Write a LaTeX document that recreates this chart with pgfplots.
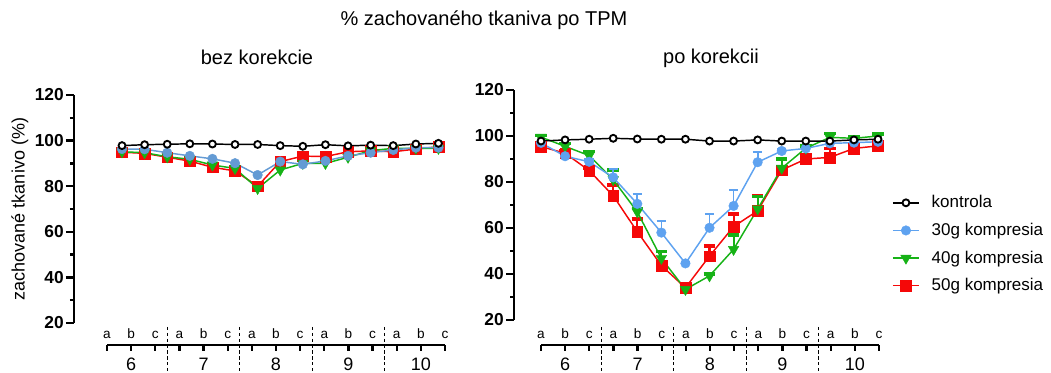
\documentclass[border=0pt]{standalone}
\usepackage{fontspec}
\setmainfont{Liberation Sans}
\usepackage{pgfplots}
\pgfplotsset{compat=1.18}
\usepackage{pgfplotstable}

\definecolor{cblue}{RGB}{94,162,240}
\definecolor{cblueL}{RGB}{100,155,212}
\definecolor{cgreen}{RGB}{22,178,22}
\definecolor{cred}{RGB}{245,8,8}

\pgfplotstableread{
x kon b30 g40 r50
0 97.8 96.3 95.1 94.9
1 98.2 96.2 94.7 94.4
2 98.4 94.7 92.9 92.7
3 98.6 93.3 91.8 91.0
4 98.5 92.0 89.3 88.3
5 98.3 90.1 87.8 86.7
6 98.3 84.9 79.0 80.0
7 97.8 90.8 87.1 90.8
8 97.5 89.6 90.0 93.2
9 98.2 91.1 90.0 93.0
10 97.7 93.3 92.7 95.1
11 98.0 94.7 95.6 95.5
12 97.8 95.9 96.6 95.1
13 98.5 96.9 96.6 96.3
14 98.8 96.9 96.6 97.3
}\leftdata

\pgfplotstableread{
x kon b30 eb g40 eg r50 er
0 97.8 97.0 0.5 99.5 0.8 95.4 1.0
1 98.3 91.2 0.5 95.5 1.2 92.5 1.0
2 98.6 88.8 1.0 91.5 1.8 85.0 1.0
3 99.0 82.0 3.6 81.0 4.3 74.0 4.7
4 98.7 70.5 4.3 67.0 1.5 58.4 5.5
5 98.6 58.0 5.2 46.8 3.0 43.7 1.5
6 98.6 44.6 0.5 33.3 1.0 34.0 1.0
7 97.8 60.1 5.9 39.2 0.8 47.8 4.4
8 97.8 69.6 6.9 50.7 6.3 60.6 5.5
9 98.3 88.6 4.3 68.3 5.3 67.5 6.6
10 97.8 93.5 0.8 86.0 3.9 85.2 1.0
11 97.8 94.6 0.5 94.7 1.0 90.0 1.0
12 97.8 96.8 0.5 99.4 1.6 90.7 3.9
13 98.3 97.1 0.5 99.0 0.5 94.6 1.0
14 98.6 97.5 0.5 100.0 0.8 95.7 1.0
}\rightdata

\pgfplotsset{
  dataaxis/.style={
    scale only axis, anchor=south west, width=278.25pt,
    ymin=20, ymax=120, ytick={20,40,...,120}, minor ytick={30,50,...,110},
    axis x line=none, axis y line*=left,
    y axis line style={line width=1.75pt, black},
    tick align=outside,
    major tick length=6pt, minor tick length=3pt,
    tick style={line width=1.75pt, black},
    yticklabel style={font=\bfseries\fontsize{13}{15}\selectfont, inner sep=1.5pt},
    /pgf/number format/assume math mode=true,
    clip=false,
  },
  cataxis/.style={
    scale only axis, anchor=south west, width=253.5pt, height=20.25pt,
    xmin=0, xmax=14, ymin=0, ymax=1,
    axis x line*=top, axis y line=none,
    x axis line style={line width=1.75pt, black},
    xtick={0,...,14}, xticklabels={a,b,c,a,b,c,a,b,c,a,b,c,a,b,c},
    tick align=inside, major tick length=4.5pt,
    tick style={line width=1.75pt, black},
    xticklabel style={font=\fontsize{10.2}{12}\selectfont, anchor=base, yshift=4.9pt},
    clip=false,
  },
  konstyle/.style={black, line width=1.1pt, mark=*, mark size=2.6pt,
    mark options={fill=white, draw=black, line width=1.4pt}},
  bstyle/.style={#1, line width=1.1pt, mark=*, mark size=3.6pt,
    mark options={fill=#1, draw=#1, line width=0.3pt}},
  gstyle/.style={cgreen, line width=1.1pt, mark=triangle*, mark size=4.6pt,
    mark options={rotate=180, fill=cgreen, draw=cgreen, line width=0.3pt}},
  rstyle/.style={cred, line width=1.1pt, mark=square*, mark size=4pt,
    mark options={fill=cred, draw=cred, line width=0.3pt}},
  legend image code/.code={\draw[mark repeat=2,mark phase=2,#1] plot coordinates {(0cm,0cm) (0.3425cm,0cm) (0.685cm,0cm)};},
}

\newcommand{\groupnodes}{%
  \pgfplotsinvokeforeach{2.5,5.5,8.5,11.5}{\draw[black, line width=0.9pt, dash pattern=on 2.4pt off 2pt] (axis cs:##1,1.667) -- (axis cs:##1,-0.3);}
  \node[anchor=base, font=\fontsize{13.5}{16}\selectfont] at (axis cs:1,0.07) {6};
  \node[anchor=base, font=\fontsize{13.5}{16}\selectfont] at (axis cs:4,0.07) {7};
  \node[anchor=base, font=\fontsize{13.5}{16}\selectfont] at (axis cs:7,0.07) {8};
  \node[anchor=base, font=\fontsize{13.5}{16}\selectfont] at (axis cs:10,0.07) {9};
  \node[anchor=base, font=\fontsize{13.5}{16}\selectfont] at (axis cs:13,0.07) {10};
}

\begin{document}
\begin{tikzpicture}
\path[use as bounding box] (0,0) rectangle (788.25pt,279pt);
\clip (0,0) rectangle (788.25pt,279pt);

\node[font=\fontsize{15}{18}\selectfont] at (363pt,264pt) {\% zachovaného tkaniva po TPM};
\node[font=\fontsize{15}{18}\selectfont] at (192.75pt,236.25pt) {bez korekcie};
\node[font=\fontsize{15}{18}\selectfont] at (533.25pt,235.5pt) {po korekcii};

% left data axis
\begin{axis}[dataaxis, at={(55.5pt,36.75pt)}, height=171pt,
  xmin=-2.124, xmax=14.29,
  ylabel={zachované tkanivo (\%)},
  ylabel style={at={(axis description cs:-0.146,0.5)}, anchor=center, font=\fontsize{13.5}{16}\selectfont},
]
\addplot[rstyle] table[x=x, y=r50] {\leftdata};
\addplot[gstyle] table[x=x, y=g40] {\leftdata};
\addplot[bstyle=cblueL] table[x=x, y=b30] {\leftdata};
\addplot[konstyle] table[x=x, y=kon] {\leftdata};
\end{axis}

% left category axis
\begin{axis}[cataxis, at={(80.25pt,0pt)}]
\groupnodes
\end{axis}

% right data axis
\begin{axis}[dataaxis, at={(385.5pt,39pt)}, height=172.5pt,
  xmin=-1.122, xmax=14.29,
  reverse legend,
  legend style={at={(axis description cs:1.008,0.565)}, anchor=north west, draw=none, fill=none,
    font=\fontsize{12.75}{15}\selectfont, row sep=6pt, legend cell align=left,
    /tikz/every odd column/.append style={column sep=7pt}},
]
\addplot[rstyle, error bars/.cd, y dir=plus, y explicit,
  error bar style={line width=1.6pt, cred},
  error mark options={rotate=90, line width=2.6pt, mark size=4.3pt, cred}] table[x=x, y=r50, y error=er] {\rightdata};
\addlegendentry{50g kompresia}
\addplot[gstyle, error bars/.cd, y dir=plus, y explicit,
  error bar style={line width=1.6pt, cgreen},
  error mark options={rotate=90, line width=2.6pt, mark size=4.3pt, cgreen}] table[x=x, y=g40, y error=eg] {\rightdata};
\addlegendentry{40g kompresia}
\addplot[bstyle=cblue, error bars/.cd, y dir=plus, y explicit,
  error bar style={line width=1.3pt, cblue},
  error mark options={rotate=90, line width=1.6pt, mark size=3.5pt, cblue}] table[x=x, y=b30, y error=eb] {\rightdata};
\addlegendentry{30g kompresia}
\addplot[konstyle] table[x=x, y=kon] {\rightdata};
\addlegendentry{kontrola}
\end{axis}

% right category axis
\begin{axis}[cataxis, at={(405.75pt,0pt)}]
\groupnodes
\end{axis}
\end{tikzpicture}
\end{document}
